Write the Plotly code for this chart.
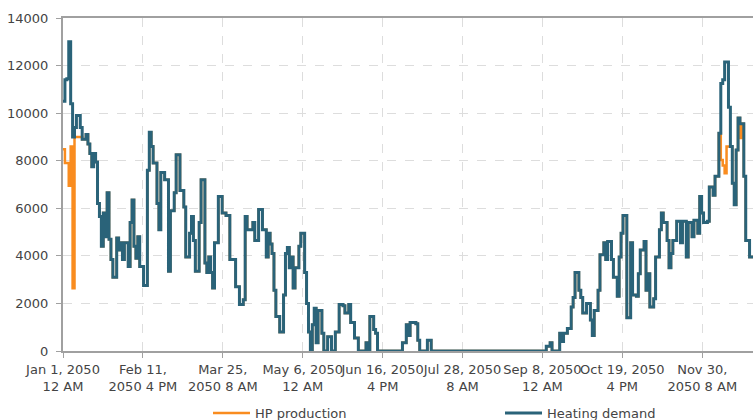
import plotly.graph_objects as go
import pandas as pd

start_date = "2050-01-01"

heating_demand = [
    10500, 11400, 11450, 13000, 10400, 9000, 9400, 9900, 9900, 9400,
    8900, 8900, 9100, 8700, 8300, 7750, 8300, 7950, 6200, 5650,
    4400, 5800, 4800, 6650, 4700, 3850, 3100, 3100, 4750, 4250,
    4550, 3850, 4550, 4550, 3550, 5400, 6350, 4400, 3900, 4800,
    3550, 3550, 2750, 2750, 7600, 9200, 8600, 7900, 7900, 6200,
    5100, 7500, 7500, 7200, 7200, 3350, 5900, 5900, 6650, 8250,
    8250, 6750, 6750, 6050, 3950, 3950, 4950, 5650, 4650, 3350,
    3350, 5400, 7200, 7200, 3700, 3300, 3950, 3300, 2650, 4550,
    4550, 6500, 6500, 5800, 5800, 5700, 5700, 3850, 3850, 3850,
    2700, 2700, 1950, 1950, 2150, 5650, 5100, 5100, 5100, 5400,
    4650, 4650, 5950, 5950, 5100, 5100, 3950, 4950, 4500, 4100,
    2550, 1450, 1450, 800, 800, 2350, 4100, 4350, 3500, 3950,
    2650, 3500, 3500, 4400, 4950, 4950, 3300, 2000, 800, 0,
    1100, 1800, 350, 1700, 1700, 750, 0, 0, 600, 600,
    0, 0, 800, 800, 1950, 1950, 1900, 1600, 1600, 1950,
    1200, 1200, 550, 550, 0, 0, 0, 0, 350, 0,
    1450, 1450, 900, 750, 0, 0, 0, 0, 0, 0,
    0, 0, 0, 0, 0, 0, 0, 350, 350, 1100,
    650, 1200, 1200, 1200, 1150, 450, 0, 0, 0, 0,
    450, 450, 0, 0, 0, 0, 0, 0, 0, 0,
    0, 0, 0, 0, 0, 0, 0, 0, 0, 0,
    0, 0, 0, 0, 0, 0, 0, 0, 0, 0,
    0, 0, 0, 0, 0, 0, 0, 0, 0, 0,
    0, 0, 0, 0, 0, 0, 0, 0, 0, 0,
    0, 0, 0, 0, 0, 0, 0, 0, 0, 0,
    0, 0, 200, 200, 350, 0, 0, 0, 0, 750,
    400, 750, 750, 950, 950, 1850, 2250, 3300, 3300, 2550,
    2250, 1600, 1600, 2000, 2000, 1300, 650, 1700, 1700, 2550,
    4050, 4050, 4550, 3850, 4600, 4600, 3850, 3100, 3100, 2300,
    3950, 4950, 5700, 5700, 1400, 1400, 4550, 2350, 2350, 2300,
    3250, 4250, 4250, 4600, 2550, 3250, 1850, 1850, 2200, 3950,
    3950, 5100, 5800, 5400, 5400, 4650, 3500, 4100, 4650, 4650,
    5450, 5450, 4550, 5450, 5450, 3950, 5400, 5400, 4800, 5500,
    5500, 4950, 6500, 5800, 5400, 5400, 5450, 6900, 6900, 6550,
    7350, 7350, 9150, 11250, 11400, 12150, 12150, 10250, 8600, 7050,
    6150, 8450, 9800, 9550, 9550, 7350, 4650, 4650, 3950, 3950,
    3950, 4200, 4500, 4300, 4100,
]

hp_production = [
    8480, 7900, 7900, 6950, 8600, 2640, 9000, 9000, 9000, 9000,
    8900, 8900, 9100, 8700, 8300, 7750, 8300, 7950, 6200, 5650,
    4400, 5800, 4800, 6650, 4700, 3850, 3100, 3100, 4750, 4250,
    4550, 3850, 4550, 4550, 3550, 5400, 6350, 4400, 3900, 4800,
    3550, 3550, 2750, 2750, 7600, 9200, 8600, 7900, 7900, 6200,
    5100, 7500, 7500, 7200, 7200, 3350, 5900, 5900, 6650, 8250,
    8250, 6750, 6750, 6050, 3950, 3950, 4950, 5650, 4650, 3350,
    3350, 5400, 7200, 7200, 3700, 3300, 3950, 3300, 2650, 4550,
    4550, 6500, 6500, 5800, 5800, 5700, 5700, 3850, 3850, 3850,
    2700, 2700, 1950, 1950, 2150, 5650, 5100, 5100, 5100, 5400,
    4650, 4650, 5950, 5950, 5100, 5100, 3950, 4950, 4500, 4100,
    2550, 1450, 1450, 800, 800, 2350, 4100, 4350, 3500, 3950,
    2650, 3500, 3500, 4400, 4950, 4950, 3300, 2000, 800, 0,
    1100, 1800, 350, 1700, 1700, 750, 0, 0, 600, 600,
    0, 0, 800, 800, 1950, 1950, 1900, 1600, 1600, 1950,
    1200, 1200, 550, 550, 0, 0, 0, 0, 350, 0,
    1450, 1450, 900, 750, 0, 0, 0, 0, 0, 0,
    0, 0, 0, 0, 0, 0, 0, 350, 350, 1100,
    650, 1200, 1200, 1200, 1150, 450, 0, 0, 0, 0,
    450, 450, 0, 0, 0, 0, 0, 0, 0, 0,
    0, 0, 0, 0, 0, 0, 0, 0, 0, 0,
    0, 0, 0, 0, 0, 0, 0, 0, 0, 0,
    0, 0, 0, 0, 0, 0, 0, 0, 0, 0,
    0, 0, 0, 0, 0, 0, 0, 0, 0, 0,
    0, 0, 0, 0, 0, 0, 0, 0, 0, 0,
    0, 0, 200, 200, 350, 0, 0, 0, 0, 750,
    400, 750, 750, 950, 950, 1850, 2250, 3300, 3300, 2550,
    2250, 1600, 1600, 2000, 2000, 1300, 650, 1700, 1700, 2550,
    4050, 4050, 4550, 3850, 4600, 4600, 3850, 3100, 3100, 2300,
    3950, 4950, 5700, 5700, 1400, 1400, 4550, 2350, 2350, 2300,
    3250, 4250, 4250, 4600, 2550, 3250, 1850, 1850, 2200, 3950,
    3950, 5100, 5800, 5400, 5400, 4650, 3500, 4100, 4650, 4650,
    5450, 5450, 4550, 5450, 5450, 3950, 5400, 5400, 4800, 5500,
    5500, 4950, 6500, 5800, 5400, 5400, 5450, 6900, 6900, 6550,
    7350, 7350, 9150, 8030, 7800, 7470, 8600, 8600, 8600, 7050,
    6150, 8450, 9800, 8950, 9550, 7350, 4650, 4650, 3950, 3950,
    3950, 4200, 4500, 4300, 4100,
]

tick_hours = [0, 1000, 2000, 3000, 4000, 5000, 6000, 7000, 8000]
tick_labels = [
    "Jan 1, 2050<br>12 AM",
    "Feb 11,<br>2050 4 PM",
    "Mar 25,<br>2050 8 AM",
    "May 6, 2050<br>12 AM",
    "Jun 16, 2050<br>4 PM",
    "Jul 28, 2050<br>8 AM",
    "Sep 8, 2050<br>12 AM",
    "Oct 19, 2050<br>4 PM",
    "Nov 30,<br>2050 8 AM",
]
visible_hours = 8635

t0 = pd.Timestamp(start_date)
dates = pd.date_range(start_date, periods=len(heating_demand), freq="D")
tickvals = [t0 + pd.Timedelta(hours=h) for h in tick_hours]
x_end = t0 + pd.Timedelta(hours=visible_hours)

FONT = "DejaVu Sans"
TXT = "#444444"
AX = "#a0a0a0"

fig = go.Figure()
fig.add_trace(go.Scatter(
    x=dates, y=hp_production, name="HP production", mode="lines",
    line=dict(color="#f98c1f", width=2.5, shape="hv"), legend="legend",
))
fig.add_trace(go.Scatter(
    x=dates, y=heating_demand, name="Heating demand", mode="lines",
    line=dict(color="#2a6379", width=3, shape="hv"), legend="legend2",
))

legend_common = dict(
    orientation="h", xanchor="left", yref="container", y=7 / 420, yanchor="middle",
    font=dict(size=13, color=TXT), itemwidth=37, bgcolor="rgba(0,0,0,0)",
)

fig.update_layout(
    width=753, height=420,
    margin=dict(l=63, r=0, t=18, b=69),
    paper_bgcolor="white", plot_bgcolor="white",
    font=dict(family=FONT, size=13, color=TXT),
    showlegend=True,
    legend=dict(x=(208 - 63) / 690, **legend_common),
    legend2=dict(x=(500 - 63) / 690, **legend_common),
    xaxis=dict(
        range=[t0, x_end], tickmode="array", tickvals=tickvals, ticktext=tick_labels,
        tickangle=0, automargin=False,
        showline=True, linecolor=AX, linewidth=2, mirror=True,
        ticks="outside", ticklen=5, tickcolor=AX, tickwidth=1,
        showgrid=True, gridcolor="#dddddd", griddash="dash", gridwidth=1,
        layer="below traces", tickfont=dict(size=13, color=TXT),
    ),
    yaxis=dict(
        range=[0, 14000], dtick=2000, tick0=0, automargin=False,
        showline=True, linecolor=AX, linewidth=2,
        ticks="outside", ticklen=5, tickcolor=AX, tickwidth=1,
        showgrid=True, gridcolor="#dddddd", griddash="dash", gridwidth=1,
        zeroline=False, layer="below traces", tickfont=dict(size=13, color=TXT),
        tickformat="d", ticklabelstandoff=5,
    ),
)

fig.write_html(
    "out.html",
    config={"displayModeBar": False},
    post_script="document.body.style.margin='0';",
)
